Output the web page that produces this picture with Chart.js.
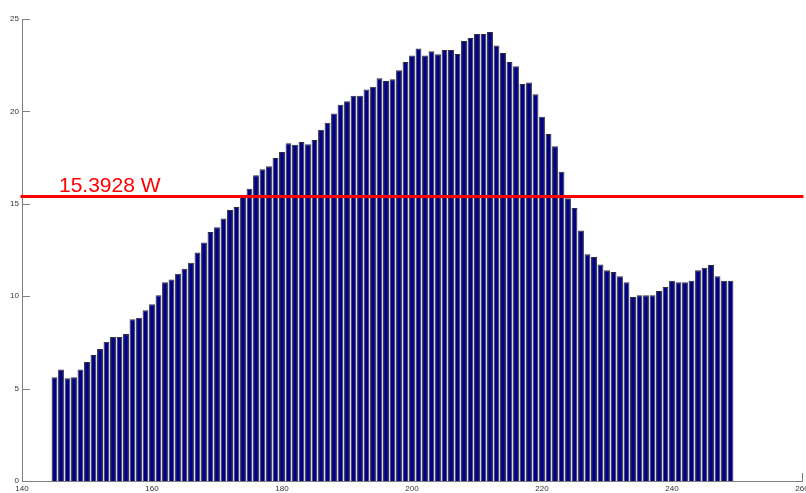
<!DOCTYPE html>
<html>
<head>
<meta charset="utf-8">
<script src="https://cdn.jsdelivr.net/npm/chart.js@4"></script>
<style>
  html, body { margin: 0; padding: 0; background: #ffffff; }
  #wrap { width: 806px; height: 493px; }
</style>
</head>
<body>
<div id="wrap"><canvas id="chart" width="806" height="493"></canvas></div>
<script>
// Bin positions (x) and measured power per bin (W)
const categories = [
  145,146,147,148,149,150,151,152,153,154,155,156,157,158,159,160,161,162,163,164,
  165,166,167,168,169,170,171,172,173,174,175,176,177,178,179,180,181,182,183,184,
  185,186,187,188,189,190,191,192,193,194,195,196,197,198,199,200,201,202,203,204,
  205,206,207,208,209,210,211,212,213,214,215,216,217,218,219,220,221,222,223,224,
  225,226,227,228,229,230,231,232,233,234,235,236,237,238,239,240,241,242,243,244,
  245,246,247,248,249
];
const values = [
  5.61, 6.04, 5.56, 5.61, 6.04, 6.44, 6.82, 7.14, 7.54, 7.79,
  7.79, 7.95, 8.75, 8.84, 9.24, 9.56, 10.05, 10.75, 10.91, 11.22,
  11.49, 11.81, 12.36, 12.91, 13.47, 13.73, 14.21, 14.66, 14.83, 15.49,
  15.82, 16.54, 16.87, 17.03, 17.48, 17.80, 18.27, 18.20, 18.34, 18.22,
  18.45, 19.01, 19.39, 19.88, 20.36, 20.55, 20.85, 20.85, 21.18, 21.34,
  21.79, 21.65, 21.74, 22.22, 22.67, 23.02, 23.41, 23.02, 23.25, 23.09,
  23.32, 23.32, 23.10, 23.81, 23.97, 24.19, 24.19, 24.30, 23.56, 23.16,
  22.67, 22.44, 21.48, 21.57, 20.93, 19.71, 18.78, 18.11, 16.74, 15.30,
  14.77, 13.56, 12.27, 12.12, 11.71, 11.40, 11.31, 11.08, 10.75, 9.96,
  10.05, 10.05, 10.05, 10.28, 10.50, 10.84, 10.75, 10.75, 10.84, 11.40,
  11.54, 11.69, 11.08, 10.84, 10.84
];
// Mean level marked across the plot
const threshold = 15.3928;
const thresholdLabel = threshold + ' W';

// Axis ticks
const xTicks = [140, 160, 180, 200, 220, 240, 260];
const yTicks = [0, 5, 10, 15, 20, 25];

const axisColor = '#7f7f7f';
const tickFont = { family: 'Liberation Sans, Arial, sans-serif', size: 8 };

// Inward-pointing tick marks along both axes
const innerTicks = {
  id: 'innerTicks',
  beforeDatasetsDraw(chart) {
    const { ctx, scales: { x, y } } = chart;
    const len = 8;
    ctx.save();
    ctx.strokeStyle = axisColor;
    ctx.lineWidth = 1;
    ctx.beginPath();
    yTicks.forEach(v => {
      const py = Math.round(y.getPixelForValue(v)) + 0.5;
      ctx.moveTo(x.left, py);
      ctx.lineTo(x.left + len, py);
    });
    xTicks.forEach(v => {
      const px = Math.round(x.getPixelForValue(v)) + 0.5;
      ctx.moveTo(px, y.bottom);
      ctx.lineTo(px, y.bottom - len);
    });
    ctx.stroke();
    ctx.restore();
  }
};

// Caption for the mean line
const thresholdText = {
  id: 'thresholdText',
  afterDatasetsDraw(chart) {
    const { ctx, scales: { x, y } } = chart;
    const py = y.getPixelForValue(threshold);
    ctx.save();
    ctx.fillStyle = '#ff0000';
    ctx.font = '21px "Liberation Sans", Arial, sans-serif';
    ctx.textAlign = 'left';
    ctx.textBaseline = 'alphabetic';
    ctx.fillText(thresholdLabel, x.left + 37, py - 5);
    ctx.restore();
  }
};

function noPad(scale) {
  scale.paddingLeft = 0;
  scale.paddingRight = 0;
  scale.paddingTop = 0;
  scale.paddingBottom = 0;
}

new Chart(document.getElementById('chart'), {
  data: {
    datasets: [
      {
        type: 'line',
        data: [{ x: xTicks[0], y: threshold }, { x: xTicks[xTicks.length - 1], y: threshold }],
        borderColor: '#ff0000',
        borderWidth: 3,
        borderCapStyle: 'square',
        pointRadius: 0,
        clip: false,
        order: 0
      },
      {
        type: 'bar',
        data: categories.map((c, i) => ({ x: c, y: values[i] })),
        backgroundColor: '#000080',
        borderColor: '#2e2e3a',
        borderWidth: 1,
        borderSkipped: 'bottom',
        barPercentage: 0.9,
        categoryPercentage: 1,
        order: 1
      }
    ]
  },
  options: {
    responsive: false,
    animation: false,
    devicePixelRatio: 1,
    layout: { padding: { top: 19, right: 4, bottom: 0, left: 0 } },
    plugins: { legend: { display: false }, tooltip: { enabled: false } },
    scales: {
      x: {
        type: 'linear',
        offset: false,
        min: 140,
        max: 260,
        afterBuildTicks(scale) { scale.ticks = xTicks.map(v => ({ value: v })); },
        afterFit(scale) { scale.height = 12; noPad(scale); },
        grid: { display: false, drawTicks: false, offset: false },
        border: { display: true, color: axisColor, width: 1 },
        ticks: { color: '#333333', font: tickFont, padding: 3, maxRotation: 0, autoSkip: false }
      },
      y: {
        type: 'linear',
        min: 0,
        max: 25,
        afterBuildTicks(scale) { scale.ticks = yTicks.map(v => ({ value: v })); },
        afterFit(scale) { scale.width = 22; noPad(scale); },
        grid: { display: false, drawTicks: false },
        border: { display: true, color: axisColor, width: 1 },
        ticks: { color: '#333333', font: tickFont, padding: 3 }
      }
    }
  },
  plugins: [innerTicks, thresholdText]
});
</script>
</body>
</html>
